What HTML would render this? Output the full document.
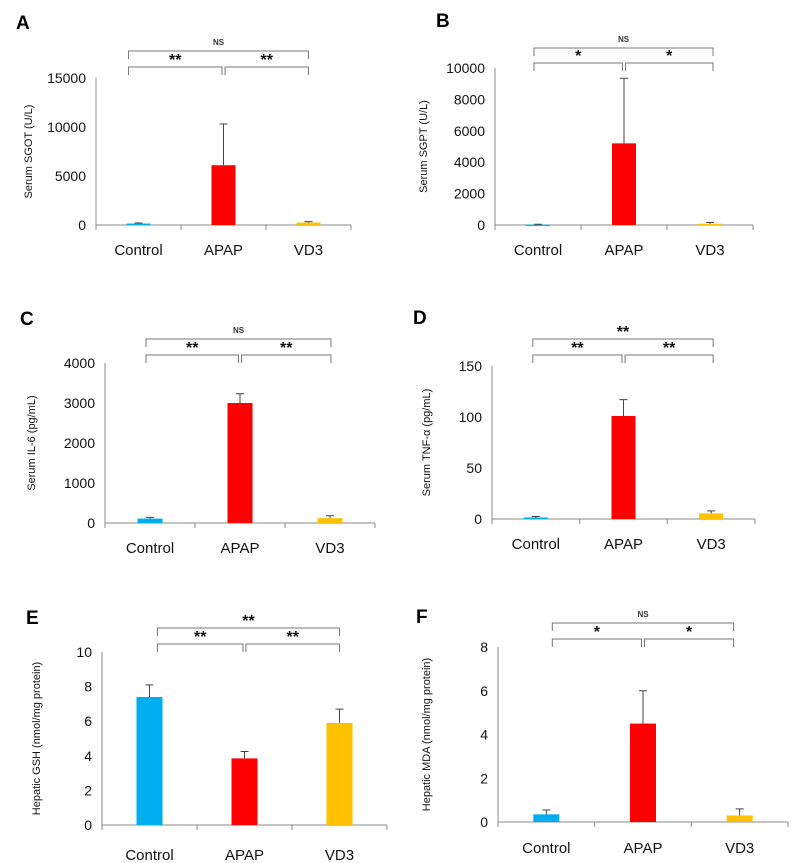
<!DOCTYPE html>
<html><head><meta charset="utf-8"><style>
body{margin:0;background:#fff}
svg{display:block;font-family:"Liberation Sans",Arial,sans-serif}
</style></head><body>
<svg id="fig" width="797" height="863" viewBox="0 0 797 863" xmlns="http://www.w3.org/2000/svg"></svg>
<script>
const categories=["Control","APAP","VD3"];
const colors=["#00aeef","#ff0000","#ffc000"];
const valsA=[150,6100,250], errA=[60,4200,100], ticksA=[0,5000,10000,15000];
const valsB=[30,5200,80], errB=[20,4150,80], ticksB=[0,2000,4000,6000,8000,10000];
const valsC=[110,3000,120], errC=[30,230,60], ticksC=[0,1000,2000,3000,4000];
const valsD=[1.5,101,5.5], errD=[1,16,2.5], ticksD=[0,50,100,150];
const valsE=[7.4,3.85,5.9], errE=[0.7,0.4,0.8], ticksE=[0,2,4,6,8,10];
const valsF=[0.35,4.5,0.3], errF=[0.2,1.5,0.3], ticksF=[0,2,4,6,8];
const sigA=["**","**","NS"], sigB=["*","*","NS"], sigC=["**","**","NS"], sigD=["**","**","**"], sigE=["**","**","**"], sigF=["*","*","NS"];

const NS="http://www.w3.org/2000/svg";
const svg=document.getElementById('fig');
function mk(tag,attrs,parent,text){const e=document.createElementNS(NS,tag);for(const k in attrs)e.setAttribute(k,attrs[k]);if(text!==undefined)e.textContent=text;(parent||svg).appendChild(e);return e;}

function panel(p){
  const g=mk('g',{});
  
  
  const max=p.ticks[p.ticks.length-1];
  const y=v=>p.y0-(v/max)*(p.y0-p.yTop);
  const lab=mk('text',{x:p.lx,y:p.ly,'font-size':19,'font-weight':'bold',fill:'#000'},g,p.id);
  
  
  // y axis
  const ya=mk('line',{x1:p.ax,y1:p.yTop,x2:p.ax,y2:p.y0,stroke:'#888','stroke-width':1},g);
  
  
  p.ticks.forEach(t=>{
    const tl=mk('text',{x:p.ax-10,y:y(t)+5,'font-size':14,'text-anchor':'end',fill:'#111'},g,String(t));
    
    
  });
  const yt=mk('text',{x:p.tx,y:(p.yTop+p.y0)/2,'font-size':11,'text-anchor':'middle',fill:'#111',transform:`rotate(-90 ${p.tx} ${(p.yTop+p.y0)/2})`},g,p.title);
  
  
  // x axis
  const xa=mk('line',{x1:p.ax,y1:p.y0,x2:p.xEnd,y2:p.y0,stroke:'#888','stroke-width':1},g);
  
  
  const step=(p.xEnd-p.ax)/3;
  for(let i=0;i<=3;i++){
    const tk=mk('line',{x1:p.ax+i*step,y1:p.y0,x2:p.ax+i*step,y2:p.y0+5,stroke:'#888'},g);
    
    
  }
  const cx=i=>p.ax+(i+0.5)*step;
  categories.forEach((c,i)=>{
    const x=cx(i), v=p.vals[i], e=p.err[i];
    const b=mk('rect',{x:x-p.bw/2,y:y(v),width:p.bw,height:Math.max(p.y0-y(v),1.5),fill:colors[i]},g);
    
    
    const el=mk('path',{d:`M${x} ${y(v)}V${y(v+e)}M${x-4} ${y(v+e)}H${x+4}`,stroke:'#444','stroke-width':1,fill:'none'},g);
    
    
    const t=mk('text',{x:x,y:p.cy,'font-size':15,'text-anchor':'middle',fill:'#111'},g,c);
    
    
  });
  // brackets
  const x1=cx(0)+p.bo, x3=cx(2)+p.bo2, xm=cx(1);
  const br=[[x1,xm-1.5,p.bi],[xm+1.5,x3,p.bi],[x1,x3,p.bout]];
  br.forEach((b,i)=>{
    const pth=mk('path',{d:`M${b[0]} ${b[2]+8}V${b[2]}H${b[1]}V${b[2]+8}`,stroke:'#777','stroke-width':1,fill:'none'},g);
    
    
    const s=p.sig[i], isNS=s==='NS';
    const st=mk('text',{x:(b[0]+b[1])/2,y:isNS?b[2]-6:b[2]-2,'font-size':isNS?8:16,'font-weight':'bold','text-anchor':'middle',fill:isNS?'#333':'#111'},g,s);
    
    
  });
}
panel({id:'A',vals:valsA,err:errA,ticks:ticksA,sig:sigA,title:'Serum SGOT (U/L)',lx:16,ly:29,ax:96,yTop:78,y0:225,xEnd:351,bw:24,cy:255,tx:32,bout:51,bi:67,bo:-10,bo2:0});
panel({id:'B',vals:valsB,err:errB,ticks:ticksB,sig:sigB,title:'Serum SGPT (U/L)',lx:436,ly:27,ax:495,yTop:68,y0:225,xEnd:753,bw:24,cy:255,tx:427,bout:48,bi:63,bo:-4,bo2:3});
panel({id:'C',vals:valsC,err:errC,ticks:ticksC,sig:sigC,title:'Serum IL-6 (pg/mL)',lx:20,ly:325,ax:105,yTop:363,y0:523,xEnd:375,bw:25,cy:553,tx:35,bout:339,bi:355,bo:-4,bo2:1});
panel({id:'D',vals:valsD,err:errD,ticks:ticksD,sig:sigD,title:'Serum TNF-\u03b1 (pg/mL)',lx:413,ly:324,ax:492,yTop:366,y0:519,xEnd:755,bw:24,cy:549,tx:430,bout:339,bi:355,bo:-3,bo2:2});
panel({id:'E',vals:valsE,err:errE,ticks:ticksE,sig:sigE,title:'Hepatic GSH (nmol/mg protein)',lx:26,ly:624,ax:102,yTop:652,y0:825,xEnd:387,bw:26,cy:860,tx:40,bout:628,bi:644,bo:8,bo2:0});
panel({id:'F',vals:valsF,err:errF,ticks:ticksF,sig:sigF,title:'Hepatic MDA (nmol/mg protein)',lx:416,ly:623,ax:498,yTop:647,y0:822,xEnd:788,bw:26,cy:853,tx:430,bout:623,bi:639,bo:6,bo2:-6});
</script>
</body></html>
